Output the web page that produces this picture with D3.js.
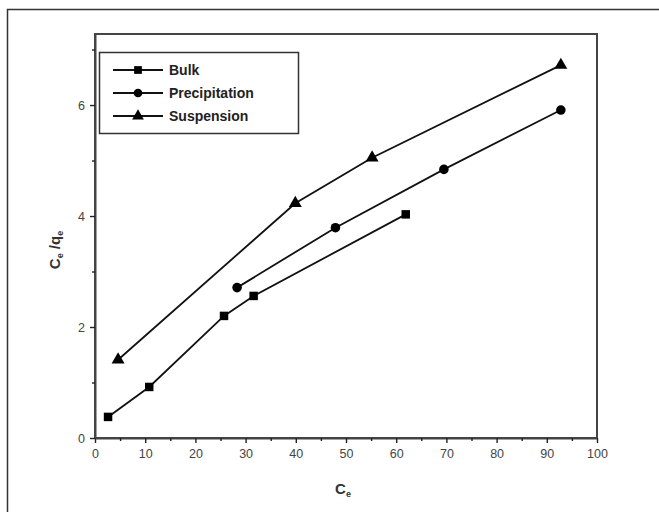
<!DOCTYPE html>
<html>
<head>
<meta charset="utf-8">
<script src="https://cdn.jsdelivr.net/npm/d3@7"></script>
<style>
  body { margin: 0; background: #fff; }
  svg { display: block; }
  text { font-family: "Liberation Sans", Arial, sans-serif; }
</style>
</head>
<body>
<svg id="chart" width="659" height="512"></svg>
<script>
// Adsorption data: Ce versus Ce/qe for three preparation routes
const seriesNames = ["Bulk", "Precipitation", "Suspension"];
const bulkX = [2.6, 10.8, 25.7, 31.6, 61.9];
const bulkY = [0.38, 0.92, 2.20, 2.56, 4.03];
const precipX = [28.3, 47.9, 69.5, 92.8];
const precipY = [2.71, 3.79, 4.84, 5.91];
const suspX = [4.6, 39.9, 55.2, 92.8];
const suspY = [1.41, 4.23, 5.05, 6.72];
const xMajorTicks = [0, 10, 20, 30, 40, 50, 60, 70, 80, 90, 100];
const xMinorTicks = [5, 15, 25, 35, 45, 55, 65, 75, 85, 95];
const yMajorTicks = [0, 2, 4, 6];
const yMinorTicks = [1, 3, 5, 7];

const svg = d3.select("#chart");
const plot = { left: 95, right: 597, top: 34, bottom: 438 };

const x = d3.scaleLinear().domain([0, 100]).range([plot.left, plot.right]);
const y = d3.scaleLinear().domain([0, 7.28]).range([plot.bottom, plot.top]);

const axisColor = "#444";

// page frame (only its top and left edges fall inside the view)
svg.append("rect")
  .attr("x", 7.5).attr("y", 9.5)
  .attr("width", 700).attr("height", 600)
  .attr("fill", "none").attr("stroke", "#333").attr("stroke-width", 1.5);

// plot box
svg.append("rect")
  .attr("x", plot.left).attr("y", plot.top)
  .attr("width", plot.right - plot.left).attr("height", plot.bottom - plot.top)
  .attr("fill", "none").attr("stroke", axisColor).attr("stroke-width", 2);

function styleAxis(g) {
  g.select(".domain").attr("stroke", axisColor).attr("stroke-width", 2);
  g.selectAll(".tick line").attr("stroke", "#222").attr("stroke-width", 1.4);
  g.selectAll(".tick text")
    .attr("fill", "#444")
    .style("font-size", "12.5px")
    .style("font-family", "'Liberation Sans', Arial, sans-serif");
}

// x axis
svg.append("g")
  .attr("transform", `translate(0,${plot.bottom})`)
  .call(d3.axisBottom(x).tickValues(xMajorTicks).tickSize(5).tickSizeOuter(0).tickPadding(6))
  .call(styleAxis);
svg.append("g")
  .attr("transform", `translate(0,${plot.bottom})`)
  .call(d3.axisBottom(x).tickValues(xMinorTicks).tickSize(3).tickSizeOuter(0).tickFormat(""))
  .call(g => g.select(".domain").remove())
  .call(styleAxis);

// y axis
svg.append("g")
  .attr("transform", `translate(${plot.left},0)`)
  .call(d3.axisLeft(y).tickValues(yMajorTicks).tickSize(5).tickSizeOuter(0).tickPadding(5))
  .call(styleAxis);
svg.append("g")
  .attr("transform", `translate(${plot.left},0)`)
  .call(d3.axisLeft(y).tickValues(yMinorTicks).tickSize(3).tickSizeOuter(0).tickFormat(""))
  .call(g => g.select(".domain").remove())
  .call(styleAxis);

// axis titles
const xTitle = svg.append("text")
  .attr("x", 343).attr("y", 494)
  .attr("text-anchor", "middle")
  .attr("font-size", 15).attr("font-weight", "bold").attr("fill", "#333");
xTitle.append("tspan").text("C");
xTitle.append("tspan").attr("font-size", 9).attr("dy", 3).text("e");

const yTitle = svg.append("text")
  .attr("transform", "translate(60,250) rotate(-90)")
  .attr("text-anchor", "middle")
  .attr("font-size", 15).attr("font-weight", "bold").attr("fill", "#333");
yTitle.append("tspan").text("C");
yTitle.append("tspan").attr("font-size", 9).attr("dy", 3).text("e");
yTitle.append("tspan").attr("dy", -3).text(" /q");
yTitle.append("tspan").attr("font-size", 9).attr("dy", 3).text("e");

// series
const series = [
  { name: seriesNames[0], xs: bulkX, ys: bulkY, symbol: d3.symbolSquare, size: 72 },
  { name: seriesNames[1], xs: precipX, ys: precipY, symbol: d3.symbolCircle, size: 72 },
  { name: seriesNames[2], xs: suspX, ys: suspY, symbol: d3.symbolTriangle, size: 72 }
];

const line = d3.line().x(d => x(d[0])).y(d => y(d[1]));

series.forEach(s => {
  const pts = s.xs.map((v, i) => [v, s.ys[i]]);
  svg.append("path")
    .datum(pts)
    .attr("d", line)
    .attr("fill", "none")
    .attr("stroke", "#111")
    .attr("stroke-width", 1.8);
  svg.append("g").selectAll("path")
    .data(pts)
    .join("path")
    .attr("transform", d => `translate(${x(d[0])},${y(d[1])})`)
    .attr("d", d3.symbol().type(s.symbol).size(s.size))
    .attr("fill", "#000");
});

// legend
const legend = svg.append("g");
legend.append("rect")
  .attr("x", 99.5).attr("y", 52.5)
  .attr("width", 199).attr("height", 81)
  .attr("fill", "#fff").attr("stroke", "#333").attr("stroke-width", 1.5);

series.forEach((s, i) => {
  const cy = 70 + i * 23;
  legend.append("line")
    .attr("x1", 113).attr("x2", 163).attr("y1", cy).attr("y2", cy)
    .attr("stroke", "#111").attr("stroke-width", 1.8);
  legend.append("path")
    .attr("transform", `translate(138,${cy})`)
    .attr("d", d3.symbol().type(s.symbol).size(60))
    .attr("fill", "#000");
  legend.append("text")
    .attr("x", 169).attr("y", cy + 5)
    .attr("font-size", 14).attr("font-weight", "bold").attr("fill", "#222")
    .text(s.name);
});
</script>
</body>
</html>
